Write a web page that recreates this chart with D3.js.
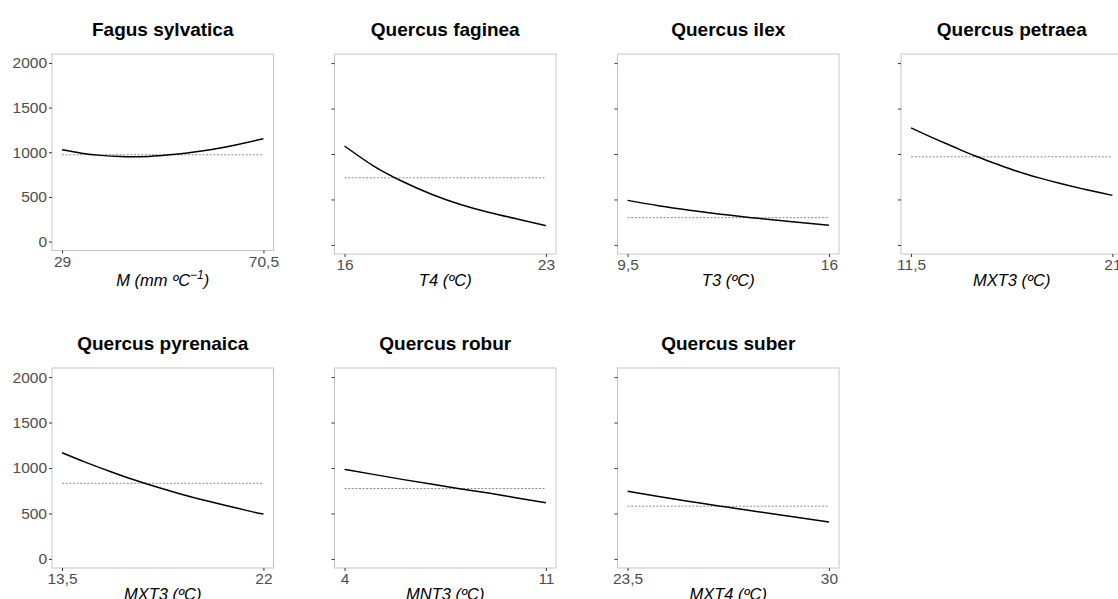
<!DOCTYPE html>
<html><head><meta charset="utf-8">
<script src="https://cdn.jsdelivr.net/npm/d3@7/dist/d3.min.js"></script>
<style>body{margin:0;background:#fff} svg{display:block;background:#fff}</style>
</head><body><svg id="c" width="1118" height="599"></svg>
<script>
// ---- data ----
const speciesNames = ["Fagus sylvatica","Quercus faginea","Quercus ilex","Quercus petraea","Quercus pyrenaica","Quercus robur","Quercus suber"];
const xTitleMain = ["M (mm ºC","T4 (ºC)","T3 (ºC)","MXT3 (ºC)","MXT3 (ºC)","MNT3 (ºC)","MXT4 (ºC)"];
const xTitleSup  = ["−1","","","","","",""];
const xTitleTail = [")","","","","","",""];
const xMin = [29,16,9.5,11.5,13.5,4,23.5];
const xMax = [70.5,23,16,21,22,11,30];
const xTickLabels = [["29","70,5"],["16","23"],["9,5","16"],["11,5","21"],["13,5","22"],["4","11"],["23,5","30"]];
const yTickValues = [0,500,1000,1500,2000];
const yTickLabels = ["0","500","1000","1500","2000"];
const refValues = [972,738,300,969,832,774,580];
const curveX = [
  [29,33,37,41,45,49,53,57,61,65,70.5],
  [16,17,18,19,20,21,22,23],
  [9.5,10.5,11.5,12.5,13.5,14.5,15.5,16],
  [11.5,12.5,13.5,14.5,15.5,16.5,17.5,18.5,19.5,20.5,21],
  [13.5,14.5,15.5,16.5,17.5,18.5,19.5,20.5,21.5,22],
  [4,5,6,7,8,9,10,11],
  [23.5,24.5,25.5,26.5,27.5,28.5,29.5,30]
];
const curveY = [
  [1028,990,965,952,951,962,980,1008,1042,1085,1151],
  [1088,870,700,560,448,360,285,212],
  [490,432,382,338,300,265,232,215],
  [1287,1180,1080,980,893,810,740,678,622,570,545],
  [1168,1062,965,873,790,714,645,583,520,493],
  [985,930,875,823,773,724,670,617],
  [745,686,632,580,530,481,431,405]
];

// ---- layout ----
const svg = d3.select("#c");
const FONT = "'Liberation Sans', Arial, Helvetica, sans-serif";
const colLeft = [52, 334.5, 617.5, 901];
const panelW = 221.5;

speciesNames.forEach((name, i) => {
  const row = i < 4 ? 0 : 1;
  const col = i < 4 ? i : i - 4;
  const left = colLeft[col];
  const top = row ? 368 : 54;
  const bottom = row ? 568 : (i === 0 ? 250.5 : 254);
  const titleBase = row ? 349.5 : 35.5;
  const axisTitleBase = row ? 600 : 285.5;
  const cx = left + panelW / 2;

  const span = xMax[i] - xMin[i];
  const x = d3.scaleLinear().domain([xMin[i] - 0.05 * span, xMax[i] + 0.05 * span]).range([left, left + panelW]);
  const y = d3.scaleLinear().domain([-100, 2100]).range([bottom, top]);

  const g = svg.append("g");

  // panel border
  g.append("rect").attr("x", left).attr("y", top).attr("width", panelW).attr("height", bottom - top)
    .attr("fill", "#fff").attr("stroke", "#c6c6c6").attr("stroke-width", 1);

  // y axis
  const ya = d3.axisLeft(y).tickValues(yTickValues).tickSize(3).tickPadding(2)
    .tickFormat((d, k) => col === 0 ? yTickLabels[k] : "");
  const yg = g.append("g").attr("transform", `translate(${left},0)`).call(ya);
  yg.select(".domain").remove();
  yg.selectAll("line").attr("stroke", "#333").attr("stroke-width", 1);
  yg.selectAll("text").attr("fill", "#4d4d4d").style("font-family", FONT).style("font-size", "15.5px");

  // x axis
  const xa = d3.axisBottom(x).tickValues([xMin[i], xMax[i]]).tickSize(3).tickPadding(2)
    .tickFormat((d, k) => xTickLabels[i][k]);
  const xg = g.append("g").attr("transform", `translate(0,${bottom})`).call(xa);
  xg.select(".domain").remove();
  xg.selectAll("line").attr("stroke", "#333").attr("stroke-width", 1);
  xg.selectAll("text").attr("fill", "#4d4d4d").style("font-family", FONT).style("font-size", "15.5px");

  // reference dotted line
  const xs = curveX[i];
  g.append("line")
    .attr("x1", x(xMin[i])).attr("x2", x(xMax[i]))
    .attr("y1", y(refValues[i])).attr("y2", y(refValues[i]))
    .attr("stroke", "#8a8a8a").attr("stroke-width", 1).attr("stroke-dasharray", "2,1.6");

  // curve
  const pts = xs.map((v, k) => [v, curveY[i][k]]);
  g.append("path").datum(pts)
    .attr("d", d3.line().x(d => x(d[0])).y(d => y(d[1])).curve(d3.curveNatural))
    .attr("fill", "none").attr("stroke", "#000").attr("stroke-width", 1.5);

  // title
  g.append("text").attr("x", cx).attr("y", titleBase).attr("text-anchor", "middle")
    .style("font-family", FONT).style("font-weight", "bold").style("font-size", "19px")
    .attr("fill", "#000").text(name);

  // axis title
  const t = g.append("text").attr("x", cx).attr("y", axisTitleBase).attr("text-anchor", "middle")
    .style("font-family", FONT).style("font-style", "italic").style("font-size", "16.5px").attr("fill", "#000");
  t.append("tspan").text(xTitleMain[i]);
  if (xTitleSup[i]) {
    t.append("tspan").attr("dy", -7).style("font-size", "12px").text(xTitleSup[i]);
    t.append("tspan").attr("dy", 7).text(xTitleTail[i]);
  }
});
</script></body></html>
